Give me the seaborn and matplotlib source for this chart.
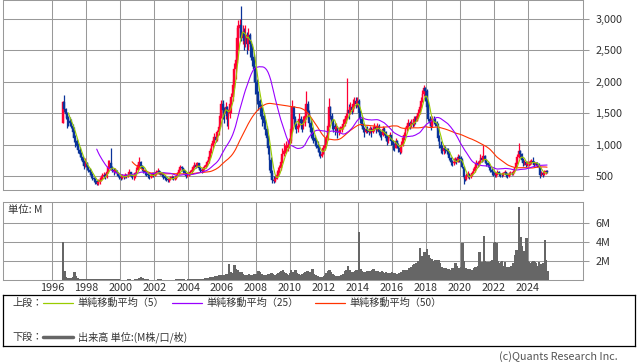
import numpy as np
import pandas as pd
import matplotlib
matplotlib.use("Agg")
import matplotlib.pyplot as plt
from matplotlib.ticker import FuncFormatter
import seaborn as sns

# monthly bars from Aug 1996 to Feb 2025
start_year, start_month = 1996, 8
first_open = 1350

close = [
    1680, 1560, 1480, 1420, 1380,  # 1996
    1350, 1300, 1200, 1100, 1050, 980, 920, 850, 800, 720, 660, 700,  # 1997
    640, 600, 560, 520, 470, 450, 420, 380, 400, 430, 470, 500,  # 1998
    520, 480, 560, 650, 700, 620, 600, 560, 590, 540, 500, 480,  # 1999
    470, 500, 480, 510, 490, 520, 560, 500, 480, 480, 540, 600,  # 2000
    680, 720, 660, 620, 580, 560, 530, 510, 480, 500, 530, 520,  # 2001
    540, 560, 580, 560, 540, 520, 500, 470, 450, 430, 450, 470,  # 2002
    480, 460, 470, 500, 540, 600, 640, 620, 590, 540, 500, 520,  # 2003
    540, 560, 590, 640, 680, 650, 700, 620, 600, 580, 610, 640,  # 2004
    680, 720, 800, 900, 980, 1050, 1120, 1080, 1200, 1280, 1450, 1650,  # 2005
    1550, 1500, 1600, 1450, 1500, 1650, 1750, 1950, 2200, 2350, 2700, 2850,  # 2006
    2900, 2700, 2800, 2650, 2750, 2600, 2750, 2600, 2550, 2400, 2200, 2000,  # 2007
    1800, 1700, 1600, 1550, 1450, 1350, 1250, 1100, 950, 750, 550, 430,  # 2008
    420, 460, 520, 560, 620, 720, 850, 900, 920, 950, 1000, 1050,  # 2009
    1250, 1600, 1400, 1300, 1250, 1300, 1400, 1350, 1300, 1350, 1450, 1650,  # 2010
    1500, 1350, 1200, 1150, 1100, 1050, 1000, 950, 880, 820, 850, 950,  # 2011
    1000, 1100, 1300, 1600, 1450, 1350, 1300, 1250, 1280, 1200, 1220, 1250,  # 2012
    1280, 1320, 1400, 1450, 1550, 1500, 1600, 1550, 1650, 1700, 1650, 1700,  # 2013
    1500, 1400, 1300, 1250, 1200, 1250, 1220, 1200, 1250, 1200, 1250, 1280,  # 2014
    1250, 1300, 1200, 1180, 1150, 1250, 1200, 1100, 1050, 1100, 1150, 1050,  # 2015
    1000, 950, 1050, 1000, 950, 880, 1000, 1100, 1150, 1250, 1300, 1350,  # 2016
    1300, 1350, 1320, 1400, 1380, 1450, 1500, 1600, 1700, 1800, 1900, 1850,  # 2017
    1600, 1400, 1350, 1300, 1400, 1380, 1350, 1300, 1100, 1000, 950, 900,  # 2018
    950, 920, 900, 880, 780, 720, 700, 730, 760, 720, 800, 780,  # 2019
    760, 650, 480, 450, 500, 520, 480, 510, 550, 580, 640, 700,  # 2020
    680, 720, 780, 760, 820, 750, 700, 680, 650, 600, 560, 540,  # 2021
    520, 540, 560, 530, 520, 510, 540, 560, 520, 500, 530, 550,  # 2022
    540, 560, 620, 700, 800, 900, 850, 750, 700, 720, 680, 700,  # 2023
    700, 720, 740, 720, 680, 700, 680, 650, 520, 540, 520, 560,  # 2024
    580, 570,  # 2025
]

high = [
    1700, 1790, 1580, 1520, 1460,
    1440, 1400, 1330, 1280, 1150, 1090, 1020, 960, 880, 820, 760, 780,
    720, 660, 620, 580, 540, 490, 470, 440, 450, 480, 510, 540,
    560, 540, 600, 760, 760, 950, 660, 620, 620, 600, 560, 520,
    500, 530, 520, 540, 530, 550, 610, 570, 510, 500, 570, 650,
    720, 800, 740, 680, 640, 600, 580, 560, 520, 540, 570, 560,
    570, 590, 620, 600, 580, 560, 540, 510, 490, 470, 480, 500,
    510, 500, 500, 530, 570, 630, 680, 660, 630, 600, 550, 540,
    570, 590, 620, 670, 720, 700, 730, 710, 640, 620, 640, 680,
    700, 760, 830, 940, 1020, 1090, 1190, 1150, 1240, 1320, 1500, 1710,
    1710, 1600, 1680, 1620, 1560, 1720, 1820, 2050, 2300, 2500, 2900, 2980,
    3000, 3200, 2900, 2850, 2900, 2800, 2850, 2780, 2650, 2600, 2450, 2250,
    2050, 1850, 1720, 1650, 1600, 1500, 1400, 1300, 1150, 1000, 800, 600,
    500, 520, 600, 640, 680, 800, 950, 1020, 1000, 1050, 1080, 1100,
    1300, 1710, 1620, 1450, 1350, 1400, 1500, 1450, 1400, 1450, 1600, 1850,
    1700, 1550, 1400, 1280, 1200, 1150, 1100, 1050, 1000, 900, 950, 1000,
    1050, 1150, 1350, 1740, 1620, 1500, 1400, 1350, 1350, 1300, 1280, 1300,
    1320, 1400, 1450, 1500, 2060, 1650, 1680, 1650, 1720, 1760, 1750, 1750,
    1720, 1550, 1450, 1350, 1280, 1300, 1300, 1260, 1300, 1280, 1300, 1350,
    1300, 1350, 1320, 1250, 1220, 1300, 1280, 1220, 1150, 1150, 1200, 1160,
    1080, 1020, 1100, 1080, 1020, 960, 1050, 1150, 1200, 1280, 1350, 1400,
    1380, 1400, 1400, 1450, 1450, 1500, 1560, 1650, 1750, 1870, 1950, 1920,
    1880, 1700, 1450, 1420, 1450, 1450, 1420, 1380, 1340, 1150, 1050, 1000,
    1000, 980, 950, 940, 900, 800, 760, 780, 800, 780, 850, 830,
    820, 780, 660, 520, 540, 580, 540, 540, 580, 620, 680, 760,
    740, 760, 850, 820, 1000, 830, 770, 720, 700, 660, 620, 580,
    560, 570, 600, 580, 550, 540, 570, 590, 570, 540, 560, 580,
    570, 590, 650, 730, 850, 1030, 920, 870, 780, 760, 740, 740,
    740, 760, 770, 800, 740, 730, 720, 700, 660, 580, 560, 590,
    600, 600,
]

low = [
    1340, 1520, 1400, 1260, 1300,
    1300, 1260, 1120, 1040, 960, 930, 860, 800, 760, 680, 610, 640,
    600, 560, 520, 470, 440, 400, 380, 350, 360, 380, 420, 450,
    470, 450, 470, 550, 620, 600, 560, 520, 540, 520, 480, 450,
    440, 460, 460, 470, 470, 480, 510, 480, 450, 440, 470, 520,
    580, 650, 620, 580, 540, 520, 500, 470, 450, 470, 490, 490,
    500, 520, 540, 530, 510, 490, 460, 440, 420, 400, 410, 440,
    450, 430, 440, 460, 490, 530, 590, 580, 550, 510, 470, 480,
    500, 520, 550, 580, 620, 620, 640, 600, 570, 550, 570, 600,
    620, 660, 700, 790, 870, 950, 1030, 1040, 1060, 1150, 1260, 1420,
    1400, 1350, 1400, 1300, 1250, 1420, 1500, 1700, 1900, 2050, 2300, 2500,
    2700, 2650, 2600, 2500, 2550, 2450, 2500, 2400, 2350, 2250, 2000, 1800,
    1650, 1550, 1450, 1400, 1300, 1250, 1150, 1000, 850, 600, 450, 390,
    390, 400, 450, 500, 540, 600, 700, 820, 860, 870, 900, 950,
    1030, 1200, 1350, 1250, 1190, 1200, 1280, 1250, 1200, 1250, 1300, 1400,
    1400, 1280, 1100, 1080, 1020, 980, 950, 880, 820, 780, 800, 850,
    920, 980, 1080, 1280, 1400, 1250, 1200, 1150, 1200, 1100, 1150, 1180,
    1200, 1250, 1300, 1350, 1400, 1400, 1480, 1480, 1520, 1580, 1580, 1600,
    1450, 1350, 1250, 1200, 1120, 1180, 1180, 1150, 1180, 1120, 1180, 1220,
    1180, 1220, 1150, 1120, 1080, 1130, 1150, 1050, 1000, 1020, 1080, 1000,
    920, 900, 940, 950, 880, 850, 870, 980, 1080, 1130, 1220, 1280,
    1250, 1280, 1280, 1300, 1330, 1370, 1420, 1480, 1580, 1680, 1780, 1700,
    1550, 1380, 1300, 1230, 1280, 1330, 1300, 1250, 1050, 950, 870, 850,
    850, 870, 850, 820, 750, 680, 660, 680, 700, 690, 720, 720,
    700, 620, 380, 420, 440, 470, 460, 470, 500, 540, 570, 620,
    640, 660, 700, 720, 740, 700, 660, 640, 600, 560, 520, 500,
    480, 490, 520, 500, 490, 480, 500, 530, 490, 470, 490, 510,
    510, 520, 550, 610, 690, 780, 800, 720, 660, 670, 640, 660,
    660, 680, 690, 690, 650, 660, 640, 620, 470, 500, 490, 510,
    530, 540,
]

# volume, millions of shares
volume = [
    4.0, 0.9, 0.3, 0.2, 0.2,
    0.2, 0.2, 0.3, 0.85, 0.4, 0.2, 0.15, 0.1, 0.15, 0.1, 0.1, 0.15,
    0.15, 0.1, 0.1, 0.1, 0.08, 0.08, 0.08, 0.08, 0.1, 0.08, 0.08, 0.08,
    0.08, 0.08, 0.15, 0.15, 0.12, 0.15, 0.1, 0.08, 0.06, 0.06, 0.06, 0.05,
    0.05, 0.05, 0.05, 0.05, 0.05, 0.06, 0.08, 0.05, 0.05, 0.05, 0.06, 0.08,
    0.1, 0.25, 0.3, 0.25, 0.15, 0.1, 0.08, 0.06, 0.05, 0.05, 0.05, 0.05,
    0.05, 0.05, 0.08, 0.1, 0.08, 0.05, 0.05, 0.05, 0.05, 0.05, 0.05, 0.05,
    0.05, 0.05, 0.05, 0.06, 0.1, 0.12, 0.1, 0.08, 0.06, 0.05, 0.05, 0.06,
    0.1, 0.12, 0.15, 0.15, 0.12, 0.12, 0.15, 0.12, 0.1, 0.12, 0.15, 0.18,
    0.2, 0.2, 0.25, 0.3, 0.35, 0.35, 0.4, 0.35, 0.45, 0.5, 0.5, 0.5,
    0.55, 0.5, 0.6, 0.6, 1.7, 0.8, 0.7, 0.7, 1.6, 1.2, 1.0, 0.8,
    0.7, 0.8, 0.6, 0.55, 0.5, 0.55, 0.6, 0.55, 0.5, 0.55, 0.6, 0.65,
    0.5, 0.9, 0.8, 0.6, 0.55, 0.5, 0.5, 0.55, 0.6, 0.65, 0.7, 0.6,
    0.55, 0.5, 0.6, 0.7, 0.8, 0.9, 1.0, 0.8, 0.7, 0.6, 0.55, 0.7,
    1.0, 0.8, 0.6, 1.05, 0.7, 0.6, 0.55, 0.5, 0.6, 0.7, 0.8, 0.9,
    0.9, 0.8, 0.7, 1.2, 0.6, 0.5, 0.45, 0.4, 0.35, 0.3, 0.35, 0.4,
    0.5, 0.7, 0.9, 1.0, 0.8, 0.6, 0.5, 0.4, 0.45, 0.4, 0.45, 0.5,
    0.5, 0.6, 0.9, 1.0, 1.5, 1.0, 0.8, 0.7, 0.8, 0.9, 1.0, 1.1,
    5.1, 1.2, 0.9, 0.8, 0.7, 0.8, 0.9, 0.8, 0.9, 1.0, 1.2, 0.9,
    0.8, 0.9, 0.7, 0.8, 0.95, 0.8, 0.7, 0.8, 0.7, 0.6, 0.7, 0.8,
    0.7, 0.7, 0.65, 0.6, 0.7, 0.75, 0.8, 1.0, 1.05, 1.0, 1.1, 1.3,
    1.2, 1.4, 1.6, 1.7, 1.8, 1.7, 2.0, 3.4, 2.5, 2.2, 2.9, 2.6,
    3.3, 2.6, 2.3, 2.2, 2.0, 1.9, 2.1, 1.6, 2.1, 1.8, 1.4, 1.3,
    1.2, 1.3, 1.1, 1.2, 1.0, 1.1, 1.3, 1.2, 1.75, 1.5, 1.3, 1.2,
    1.4, 3.9, 2.0, 1.3, 1.2, 1.1, 1.2, 1.0, 1.1, 1.3, 1.4, 1.2,
    1.5, 2.9, 1.8, 1.9, 4.6, 2.0, 1.9, 1.8, 1.9, 2.0, 2.1, 3.9,
    4.0, 3.9, 2.0, 1.8, 1.9, 2.0, 1.5, 1.9, 1.4, 1.3, 1.4, 1.5,
    1.5, 1.8, 2.6, 3.2, 3.0, 7.7, 4.5, 3.6, 3.0, 2.5, 4.4, 2.0,
    1.9, 1.8, 1.9, 2.0, 1.9, 1.8, 1.5, 1.9, 1.7, 1.6, 1.8, 4.2,
    2.1, 0.9,
]

ma_windows = [5, 25, 50]
ma_labels = ["単純移動平均（5）", "単純移動平均（25）", "単純移動平均（50）"]
ma_colors = ["#99cc00", "#9900ff", "#ff3300"]

year_ticks = list(range(1996, 2025, 2))
price_ticks = [500, 1000, 1500, 2000, 2500, 3000]
vol_ticks = [2, 4, 6]

UP, DOWN = "#ff0033", "#0a3399"
GRID = "#999999"

close = np.array(close, float)
high = np.array(high, float)
low = np.array(low, float)
volume = np.array(volume, float)
assert len(close) == len(high) == len(low) == len(volume)

n = len(close)
t = start_year + (start_month - 1 + np.arange(n) + 0.5) / 12
opn = np.r_[first_open, close[:-1]]
df = pd.DataFrame({"t": t, "open": opn, "close": close, "high": high,
                   "low": low, "volume": volume})
for w in ma_windows:
    df[f"ma{w}"] = df["close"].rolling(w).mean()

sns.set_theme(style="white")
plt.rcParams["font.family"] = ["Noto Sans CJK JP", "DejaVu Sans"]

W, H = 638, 362
fig = plt.figure(figsize=(W / 100, H / 100), dpi=100)


def box(l, t_, r, b):
    return [l / W, 1 - b / H, (r - l) / W, (b - t_) / H]


ax = fig.add_axes(box(3, 0, 583, 190))
axv = fig.add_axes(box(3, 202, 583, 280))

# candles
up = df["close"] >= df["open"]
colors = np.where(up, UP, DOWN)
body_lo = np.minimum(df["open"], df["close"])
body_h = np.maximum(np.abs(df["close"] - df["open"]), 10)
ax.vlines(df["t"], df["low"], df["high"], colors=colors, linewidth=0.9, zorder=2)
ax.bar(df["t"], body_h, bottom=body_lo, width=0.1, color=colors,
       edgecolor=colors, linewidth=0.3, zorder=2)

for w, c in zip(ma_windows[::-1], ma_colors[::-1]):
    sns.lineplot(data=df, x="t", y=f"ma{w}", ax=ax, color=c, linewidth=0.8,
                 estimator=None, zorder=3)

# volume
axv.bar(df["t"], df["volume"], width=1 / 12, color="#666666",
        edgecolor="#666666", linewidth=0.5, antialiased=False)

for a in (ax, axv):
    a.set_xlim(1993.11, 2027.24)
    a.set_xticks(year_ticks)
    a.grid(True, color=GRID, linewidth=0.75)
    a.set_axisbelow(True)
    a.set_xlabel("")
    a.set_ylabel("")
    for s in a.spines.values():
        s.set_color(GRID)
        s.set_linewidth(0.75)
    a.yaxis.tick_right()
    a.tick_params(axis="y", length=4, width=0.75, color=GRID, pad=5,
                  labelsize=7.8, labelcolor="#333333")

ax.set_ylim(277, 3302)
ax.set_yticks(price_ticks)
ax.yaxis.set_major_formatter(FuncFormatter(lambda v, p: f"{v:,.0f}"))
ax.tick_params(axis="x", length=0, labelbottom=False)

axv.set_ylim(0, 8.21)
axv.set_yticks(vol_ticks)
axv.yaxis.set_major_formatter(FuncFormatter(lambda v, p: f"{v:.0f}M"))
axv.tick_params(axis="x", length=0, pad=2, labelsize=7.8, labelcolor="#333333")
axv.text(0.009, 0.9, "単位: M", transform=axv.transAxes, fontsize=7.5,
         color="#333333", va="center", ha="left")

# legend box
lg = fig.add_axes(box(3, 295, 635, 346))
lg.set_xlim(3, 635)
lg.set_ylim(346, 295)
lg.set_xticks([])
lg.set_yticks([])
lg.set_facecolor("white")
for s in lg.spines.values():
    s.set_color("black")
    s.set_linewidth(0.9)

fs = 7.3
lg.text(12, 303, "上段：", fontsize=fs, va="center", color="#333333")
for (x0, lab), c in zip([(43, ma_labels[0]), (172, ma_labels[1]), (315, ma_labels[2])],
                        ma_colors):
    lg.plot([x0, x0 + 30], [303, 303], color=c, linewidth=0.9)
    lg.text(x0 + 34, 303, lab, fontsize=fs, va="center", color="#333333")
lg.text(12, 337, "下段：", fontsize=fs, va="center", color="#333333")
lg.plot([43, 73], [337, 337], color="#666666", linewidth=2.5)
lg.text(78, 337, "出来高 単位:(M株/口/枚)", fontsize=fs, va="center",
        color="#333333")

fig.text(618 / W, 1 - 357 / H, "(c)Quants Research Inc.", ha="right",
         va="center", fontsize=7.8, color="#555555")

fig.savefig("out.png", dpi=100)
